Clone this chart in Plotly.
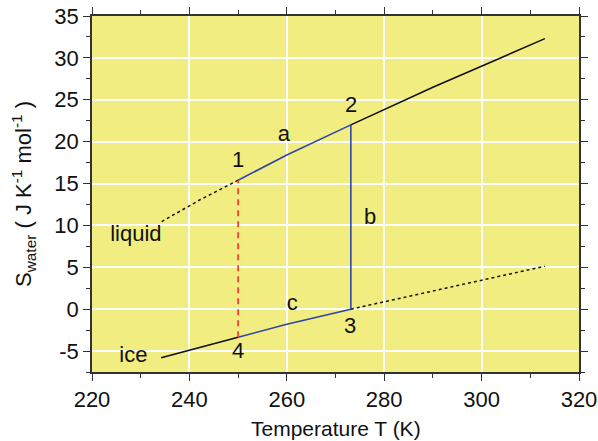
import plotly.graph_objects as go

# Liquid water entropy
liq_dot_T = [234.3, 242.0, 250.0]
liq_dot_S = [10.45, 13.0, 15.4]
liq_a_T = [250.0, 260.0, 273.15]
liq_a_S = [15.4, 18.4, 22.0]
liq_hi_T = [273.15, 290.0, 313.0]
liq_hi_S = [22.0, 26.5, 32.3]

# Ice entropy
ice_lo_T = [234.2, 242.0, 250.0]
ice_lo_S = [-5.8, -4.55, -3.35]
ice_c_T = [250.0, 260.0, 273.15]
ice_c_S = [-3.35, -1.8, 0.0]
ice_dot_T = [273.15, 290.0, 313.0]
ice_dot_S = [0.0, 2.2, 5.13]

# vertical transitions
b_T = [273.15, 273.15]
b_S = [0.0, 22.0]
red_T = [250.0, 250.0]
red_S = [-3.35, 15.4]

labels = ["1", "2", "a", "b", "c", "3", "4", "ice", "liquid"]
label_T = [250.0, 273.2, 259.4, 277.1, 261.1, 273.0, 250.0, 228.5, 229.0]
label_S = [17.6, 24.2, 20.7, 10.8, 0.6, -2.2, -5.2, -5.6, 8.75]

y_tickvals = [-5, 0, 5, 10, 15, 20, 25, 30, 35]
y_ticktext = ["-5", "0", "5", "10", "15", "20", "25", "30", "35"]

x_title = "Temperature T (K)"
y_title = "S<sub>water</sub> ( J K<sup>-1</sup> mol<sup>-1</sup> )"

BLUE = "#2e45a8"
BLACK = "#111111"
RED = "#ff2a2a"
FONT = "Liberation Sans, Arial"

fig = go.Figure()
def add(x, y, color, dash="solid", width=1.6):
    fig.add_trace(go.Scatter(x=x, y=y, mode="lines", line=dict(color=color, dash=dash, width=width),
                             showlegend=False, hoverinfo="skip"))

add(liq_dot_T, liq_dot_S, BLACK, "dot", 1.5)
add(liq_a_T, liq_a_S, BLUE)
add(liq_hi_T, liq_hi_S, BLACK)
add(ice_lo_T, ice_lo_S, BLACK)
add(ice_c_T, ice_c_S, BLUE)
add(ice_dot_T, ice_dot_S, BLACK, "dot", 1.5)
add(b_T, b_S, BLUE)
add(red_T, red_S, RED, "6px,5px", 1.6)

fig.add_trace(go.Scatter(x=label_T, y=label_S, mode="text", text=labels,
                         textfont=dict(size=22, color="#111111", family=FONT),
                         showlegend=False, hoverinfo="skip"))

axis_common = dict(
    showline=True, linecolor="#333333", linewidth=1.8, mirror="allticks",
    ticks="outside", ticklen=7, tickwidth=1.3, tickcolor="#333333",
    showgrid=True, gridcolor="white", gridwidth=1.5, zeroline=False,
    tickfont=dict(size=22, color="#111111", family=FONT), automargin=False,
)

fig.update_xaxes(range=[220, 320], dtick=20, tick0=220,
                 minor=dict(dtick=10, ticks="outside", ticklen=4, tickcolor="#333333", showgrid=False),
                 **axis_common)
fig.update_yaxes(range=[-7.5, 35], tickmode="array", tickvals=y_tickvals, ticktext=y_ticktext,
                 minor=dict(dtick=2.5, tick0=0, ticks="outside", ticklen=4, tickcolor="#333333", showgrid=False),
                 **axis_common)

fig.add_annotation(text=x_title, xref="paper", yref="paper", x=0.5, y=0, yshift=-56,
                   xanchor="center", yanchor="middle", showarrow=False,
                   font=dict(size=21, color="#111111", family=FONT))
fig.add_annotation(text=y_title, xref="paper", yref="paper", x=0, y=0.5, xshift=-69,
                   xanchor="center", yanchor="middle", showarrow=False, textangle=-90,
                   font=dict(size=22, color="#111111", family=FONT))

fig.update_layout(
    width=598, height=441,
    margin=dict(l=92, r=19, t=16, b=69),
    plot_bgcolor="#f2ed80", paper_bgcolor="white",
)

fig.write_html("out.html", config={"displayModeBar": False},
               post_script="document.body.style.margin='0';document.body.style.overflow='hidden';")
